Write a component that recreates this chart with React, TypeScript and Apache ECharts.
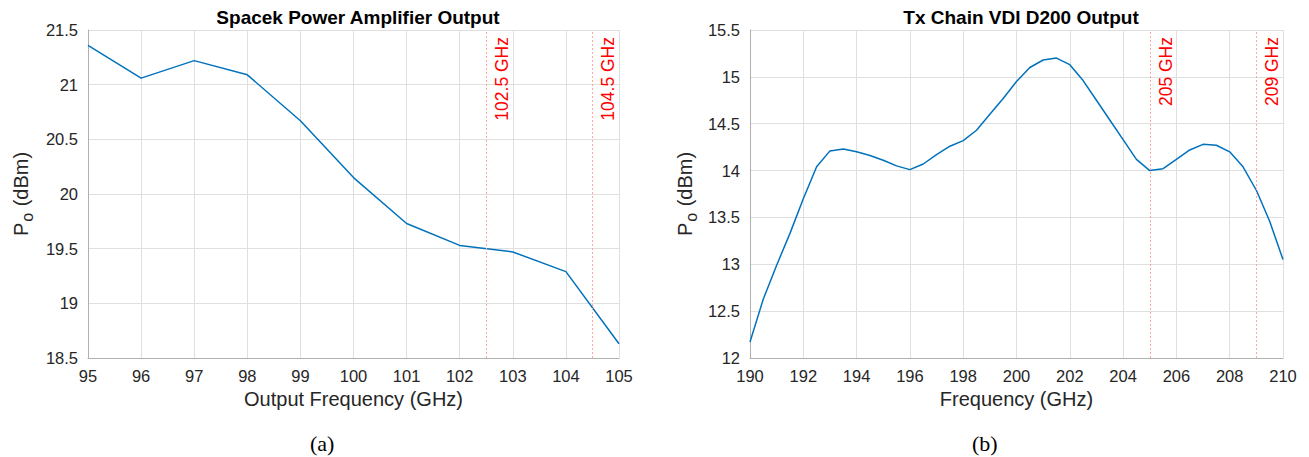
import React, { useEffect, useRef } from "react";
import * as echarts from "echarts";

const freqA = [95, 96, 97, 98, 99, 100, 101, 102, 103, 104, 105];
const powerA = [21.36, 21.06, 21.22, 21.09, 20.67, 20.15, 19.73, 19.53, 19.47, 19.29, 18.63];
const markersA = [102.5, 104.5];

const freqB = [
  190, 190.5, 191, 191.5, 192, 192.5, 193, 193.5, 194, 194.5, 195, 195.5, 196, 196.5, 197, 197.5,
  198, 198.5, 199, 199.5, 200, 200.5, 201, 201.5, 202, 202.5, 203, 203.5, 204, 204.5, 205, 205.5,
  206, 206.5, 207, 207.5, 208, 208.5, 209, 209.5, 210,
];
const powerB = [
  12.17, 12.63, 12.99, 13.33, 13.7, 14.04, 14.21, 14.23, 14.2, 14.16, 14.11, 14.05, 14.01, 14.07,
  14.17, 14.26, 14.32, 14.43, 14.6, 14.77, 14.95, 15.1, 15.18, 15.2, 15.13, 14.96, 14.75, 14.54,
  14.33, 14.12, 14.0, 14.02, 14.12, 14.22, 14.28, 14.27, 14.2, 14.04, 13.79, 13.46, 13.05,
];
const markersB = [205, 209];

const titles = ["Spacek Power Amplifier Output", "Tx Chain VDI D200 Output"];
const xNames = ["Output Frequency (GHz)", "Frequency (GHz)"];
const captions = ["(a)", "(b)"];

const FONT = "'Liberation Sans', Arial, Helvetica, sans-serif";
const SERIF = "'Liberation Serif', 'DejaVu Serif', serif";
const TXT = "#262626";
const GRID = "#dfdfdf";
const MARK_LINE = "#ffa3a3";

export default function App() {
  const ref = useRef<HTMLDivElement>(null);
  useEffect(() => {
    if (!ref.current) return;
    const chart = echarts.init(ref.current, undefined, { renderer: "svg" });
    const grids = [
      { left: 88, right: 690, top: 30, bottom: 99 },
      { left: 750, right: 26, top: 30, bottom: 99 },
    ];
    const xAx = (i: number, min: number, max: number, interval: number) => ({
      type: "value",
      gridIndex: i,
      min,
      max,
      interval,
      name: xNames[i],
      nameLocation: "middle",
      nameGap: 30,
      nameTextStyle: { fontFamily: FONT, fontSize: 20, color: TXT },
      axisLine: { show: true, onZero: false, lineStyle: { color: "#b0b0b0", width: 1 } },
      axisTick: { show: false },
      axisLabel: { fontFamily: FONT, fontSize: 16.5, color: TXT, margin: 9 },
      splitLine: { show: true, lineStyle: { color: GRID, width: 1 } },
    });
    const yAx = (i: number, min: number, max: number, gap: number) => ({
      type: "value",
      gridIndex: i,
      min,
      max,
      interval: 0.5,
      name: "P{sub|o} (dBm)",
      nameLocation: "middle",
      nameGap: gap,
      nameTextStyle: {
        fontFamily: FONT,
        fontSize: 20,
        color: TXT,
        rich: {
          sub: { fontFamily: FONT, fontSize: 16, color: TXT, padding: [12, 1, 0, 1] },
        },
      },
      axisLine: { show: true, onZero: false, lineStyle: { color: "#b0b0b0", width: 1 } },
      axisTick: { show: false },
      axisLabel: { fontFamily: FONT, fontSize: 16.5, color: TXT, margin: 10 },
      splitLine: { show: true, lineStyle: { color: GRID, width: 1 } },
    });
    const lineSt = { color: MARK_LINE, type: [2, 2], width: 1, opacity: 1 };
    const markLine = (vals: number[]) => ({
      silent: true,
      symbol: "none",
      emphasis: { disabled: true },
      lineStyle: lineSt,
      label: {
        show: true,
        position: "insideEndBottom",
        formatter: (p: any) => `${p.value} GHz`,
        color: "#ff0000",
        fontFamily: FONT,
        fontSize: 17.5,
        distance: 7,
      },
      data: vals.map((v) => ({ xAxis: v, lineStyle: lineSt })),
    });
    chart.setOption({
      animation: false,
      grid: grids,
      title: [
        {
          text: titles[0],
          left: 353,
          top: 3,
          textAlign: "center",
          textStyle: { fontFamily: FONT, fontSize: 19, fontWeight: "bold", color: "#000" },
        },
        {
          text: titles[1],
          left: 1016,
          top: 3,
          textAlign: "center",
          textStyle: { fontFamily: FONT, fontSize: 19, fontWeight: "bold", color: "#000" },
        },
      ],
      xAxis: [xAx(0, 95, 105, 1), xAx(1, 190, 210, 2)],
      yAxis: [yAx(0, 18.5, 21.5, 53), yAx(1, 12, 15.5, 51)],
      series: [
        {
          type: "line",
          xAxisIndex: 0,
          yAxisIndex: 0,
          data: freqA.map((f, i) => [f, powerA[i]]),
          showSymbol: false,
          lineStyle: { color: "#0072BD", width: 1.5 },
          itemStyle: { color: "#0072BD" },
          markLine: markLine(markersA),
        },
        {
          type: "line",
          xAxisIndex: 1,
          yAxisIndex: 1,
          data: freqB.map((f, i) => [f, powerB[i]]),
          showSymbol: false,
          lineStyle: { color: "#0072BD", width: 1.5 },
          itemStyle: { color: "#0072BD" },
          markLine: markLine(markersB),
        },
      ],
      graphic: [
        {
          type: "text",
          left: 310,
          top: 432,
          style: { text: captions[0], fontFamily: SERIF, fontSize: 22, fill: "#000" },
        },
        {
          type: "text",
          left: 972,
          top: 432,
          style: { text: captions[1], fontFamily: SERIF, fontSize: 22, fill: "#000" },
        },
      ],
    });
    return () => chart.dispose();
  }, []);
  return (
    <div
      ref={ref}
      style={{ position: "fixed", left: 0, top: 0, width: 1309, height: 457, background: "#fff" }}
    />
  );
}
